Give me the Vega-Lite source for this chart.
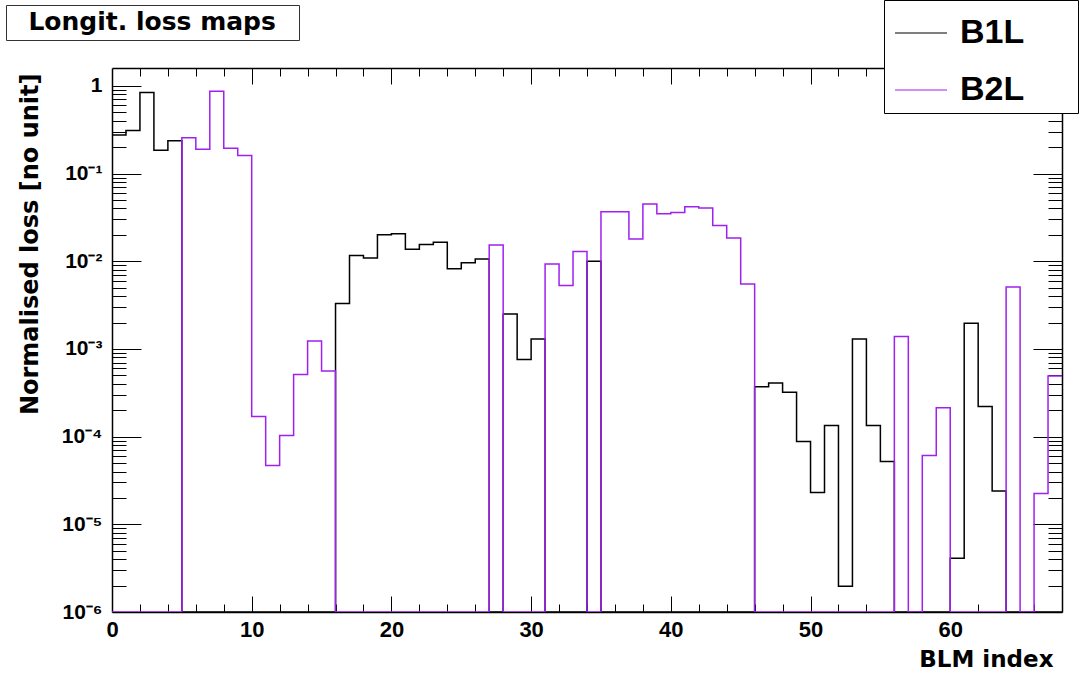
{
  "$schema": "https://vega.github.io/schema/vega-lite/v6.json",
  "width": 950,
  "height": 544,
  "autosize": {"type": "none"},
  "padding": {"left": 112, "top": 68, "right": 18, "bottom": 62},
  "background": "white",
  "config": {
    "view": {"stroke": null},
    "font": "Liberation Sans",
    "axis": {"labelFont": "Liberation Sans", "labelFontWeight": "bold", "labelColor": "black", "titleFont": "DejaVu Sans", "titleFontWeight": "bold", "titleColor": "black", "grid": false, "tickColor": "black", "tickWidth": 1, "domainColor": "black", "domainWidth": 1.5, "labelOverlap": false, "labelBound": false, "labelFlush": false}
  },
  "data": {"values": [
    {"bin":0,"loss":0.275,"beam":"B1L"},{"bin":1,"loss":0.31,"beam":"B1L"},{"bin":2,"loss":0.84,"beam":"B1L"},{"bin":3,"loss":0.184,"beam":"B1L"},{"bin":4,"loss":0.237,"beam":"B1L"},
    {"bin":5,"loss":0,"beam":"B1L"},{"bin":6,"loss":0,"beam":"B1L"},{"bin":7,"loss":0,"beam":"B1L"},{"bin":8,"loss":0,"beam":"B1L"},{"bin":9,"loss":0,"beam":"B1L"},
    {"bin":10,"loss":0,"beam":"B1L"},{"bin":11,"loss":0,"beam":"B1L"},{"bin":12,"loss":0,"beam":"B1L"},{"bin":13,"loss":0,"beam":"B1L"},{"bin":14,"loss":0,"beam":"B1L"},
    {"bin":15,"loss":0,"beam":"B1L"},{"bin":16,"loss":0.0033,"beam":"B1L"},{"bin":17,"loss":0.0116,"beam":"B1L"},{"bin":18,"loss":0.0109,"beam":"B1L"},{"bin":19,"loss":0.0201,"beam":"B1L"},
    {"bin":20,"loss":0.0206,"beam":"B1L"},{"bin":21,"loss":0.0137,"beam":"B1L"},{"bin":22,"loss":0.0155,"beam":"B1L"},{"bin":23,"loss":0.0165,"beam":"B1L"},{"bin":24,"loss":0.0082,"beam":"B1L"},
    {"bin":25,"loss":0.0096,"beam":"B1L"},{"bin":26,"loss":0.0106,"beam":"B1L"},{"bin":27,"loss":0,"beam":"B1L"},{"bin":28,"loss":0.0025,"beam":"B1L"},{"bin":29,"loss":0.00076,"beam":"B1L"},
    {"bin":30,"loss":0.0013,"beam":"B1L"},{"bin":31,"loss":0,"beam":"B1L"},{"bin":32,"loss":0,"beam":"B1L"},{"bin":33,"loss":0,"beam":"B1L"},{"bin":34,"loss":0.01,"beam":"B1L"},
    {"bin":35,"loss":0,"beam":"B1L"},{"bin":36,"loss":0,"beam":"B1L"},{"bin":37,"loss":0,"beam":"B1L"},{"bin":38,"loss":0,"beam":"B1L"},{"bin":39,"loss":0,"beam":"B1L"},
    {"bin":40,"loss":0,"beam":"B1L"},{"bin":41,"loss":0,"beam":"B1L"},{"bin":42,"loss":0,"beam":"B1L"},{"bin":43,"loss":0,"beam":"B1L"},{"bin":44,"loss":0,"beam":"B1L"},
    {"bin":45,"loss":0,"beam":"B1L"},{"bin":46,"loss":0.00037,"beam":"B1L"},{"bin":47,"loss":0.00041,"beam":"B1L"},{"bin":48,"loss":0.00032,"beam":"B1L"},{"bin":49,"loss":0.000088,"beam":"B1L"},
    {"bin":50,"loss":0.000023,"beam":"B1L"},{"bin":51,"loss":0.000134,"beam":"B1L"},{"bin":52,"loss":0.00000197,"beam":"B1L"},{"bin":53,"loss":0.0013,"beam":"B1L"},{"bin":54,"loss":0.000134,"beam":"B1L"},
    {"bin":55,"loss":0.000052,"beam":"B1L"},{"bin":56,"loss":0,"beam":"B1L"},{"bin":57,"loss":0,"beam":"B1L"},{"bin":58,"loss":0,"beam":"B1L"},{"bin":59,"loss":0,"beam":"B1L"},
    {"bin":60,"loss":0.0000041,"beam":"B1L"},{"bin":61,"loss":0.00197,"beam":"B1L"},{"bin":62,"loss":0.00022,"beam":"B1L"},{"bin":63,"loss":0.000024,"beam":"B1L"},{"bin":64,"loss":0,"beam":"B1L"},
    {"bin":65,"loss":0,"beam":"B1L"},{"bin":66,"loss":0,"beam":"B1L"},{"bin":67,"loss":0,"beam":"B1L"},{"bin":68,"loss":0,"beam":"B1L"},
    {"bin":0,"loss":0,"beam":"B2L"},{"bin":1,"loss":0,"beam":"B2L"},{"bin":2,"loss":0,"beam":"B2L"},{"bin":3,"loss":0,"beam":"B2L"},{"bin":4,"loss":0,"beam":"B2L"},
    {"bin":5,"loss":0.256,"beam":"B2L"},{"bin":6,"loss":0.189,"beam":"B2L"},{"bin":7,"loss":0.87,"beam":"B2L"},{"bin":8,"loss":0.194,"beam":"B2L"},{"bin":9,"loss":0.161,"beam":"B2L"},
    {"bin":10,"loss":0.00017,"beam":"B2L"},{"bin":11,"loss":0.000047,"beam":"B2L"},{"bin":12,"loss":0.000103,"beam":"B2L"},{"bin":13,"loss":0.00051,"beam":"B2L"},{"bin":14,"loss":0.00123,"beam":"B2L"},
    {"bin":15,"loss":0.00056,"beam":"B2L"},{"bin":16,"loss":0,"beam":"B2L"},{"bin":17,"loss":0,"beam":"B2L"},{"bin":18,"loss":0,"beam":"B2L"},{"bin":19,"loss":0,"beam":"B2L"},
    {"bin":20,"loss":0,"beam":"B2L"},{"bin":21,"loss":0,"beam":"B2L"},{"bin":22,"loss":0,"beam":"B2L"},{"bin":23,"loss":0,"beam":"B2L"},{"bin":24,"loss":0,"beam":"B2L"},
    {"bin":25,"loss":0,"beam":"B2L"},{"bin":26,"loss":0,"beam":"B2L"},{"bin":27,"loss":0.0153,"beam":"B2L"},{"bin":28,"loss":0,"beam":"B2L"},{"bin":29,"loss":0,"beam":"B2L"},
    {"bin":30,"loss":0,"beam":"B2L"},{"bin":31,"loss":0.0093,"beam":"B2L"},{"bin":32,"loss":0.0053,"beam":"B2L"},{"bin":33,"loss":0.0129,"beam":"B2L"},{"bin":34,"loss":0,"beam":"B2L"},
    {"bin":35,"loss":0.0367,"beam":"B2L"},{"bin":36,"loss":0.0367,"beam":"B2L"},{"bin":37,"loss":0.0179,"beam":"B2L"},{"bin":38,"loss":0.045,"beam":"B2L"},{"bin":39,"loss":0.0349,"beam":"B2L"},
    {"bin":40,"loss":0.0361,"beam":"B2L"},{"bin":41,"loss":0.0419,"beam":"B2L"},{"bin":42,"loss":0.0405,"beam":"B2L"},{"bin":43,"loss":0.0255,"beam":"B2L"},{"bin":44,"loss":0.0184,"beam":"B2L"},
    {"bin":45,"loss":0.0055,"beam":"B2L"},{"bin":46,"loss":0,"beam":"B2L"},{"bin":47,"loss":0,"beam":"B2L"},{"bin":48,"loss":0,"beam":"B2L"},{"bin":49,"loss":0,"beam":"B2L"},
    {"bin":50,"loss":0,"beam":"B2L"},{"bin":51,"loss":0,"beam":"B2L"},{"bin":52,"loss":0,"beam":"B2L"},{"bin":53,"loss":0,"beam":"B2L"},{"bin":54,"loss":0,"beam":"B2L"},
    {"bin":55,"loss":0,"beam":"B2L"},{"bin":56,"loss":0.00139,"beam":"B2L"},{"bin":57,"loss":0,"beam":"B2L"},{"bin":58,"loss":0.000061,"beam":"B2L"},{"bin":59,"loss":0.000213,"beam":"B2L"},
    {"bin":60,"loss":0,"beam":"B2L"},{"bin":61,"loss":0,"beam":"B2L"},{"bin":62,"loss":0,"beam":"B2L"},{"bin":63,"loss":0,"beam":"B2L"},{"bin":64,"loss":0.0051,"beam":"B2L"},
    {"bin":65,"loss":0,"beam":"B2L"},{"bin":66,"loss":0.0000224,"beam":"B2L"},{"bin":67,"loss":0.00049,"beam":"B2L"},{"bin":68,"loss":0.00049,"beam":"B2L"}
  ]},
  "layer": [
    {
      "mark": {"type": "line", "interpolate": "step-after", "strokeWidth": 1.5, "invalid": "show", "clip": true},
      "encoding": {
        "x": {"field": "bin", "type": "quantitative",
          "scale": {"domain": [0, 68], "nice": false, "zero": false},
          "axis": {"orient": "bottom", "values": [0,10,20,30,40,50,60], "format": "d", "ticks": false, "domain": true,
            "labelFontSize": 22, "labelPadding": 7,
            "title": "BLM index", "titleFontSize": 23, "titleAlign": "right", "titleAnchor": "end", "titleX": 941, "titleY": 54, "titleBaseline": "alphabetic"}},
        "y": {"field": "loss", "type": "quantitative",
          "scale": {"type": "log", "domain": [0.000001, 1.6], "nice": false, "clamp": true},
          "axis": {"orient": "left", "values": [0.000001,0.00001,0.0001,0.001,0.01,0.1,1], "ticks": false, "domain": true,
            "labelFontSize": 21, "labelPadding": 10, "labelBaseline": "middle",
            "labelExpr": "round(log(datum.value)/LN10) == 0 ? '1' : '10' + ['', '⁻¹', '⁻²', '⁻³', '⁻⁴', '⁻⁵', '⁻⁶'][-round(log(datum.value)/LN10)]",
            "title": "Normalised loss [no unit]", "titleFontSize": 24, "titleAngle": -90, "titleAlign": "right", "titleBaseline": "middle", "titleX": -82, "titleY": 5}},
        "color": {"field": "beam", "type": "nominal",
          "scale": {"domain": ["B1L", "B2L"], "range": ["#000000", "#a020f0"]},
          "legend": {"orient": "none", "legendX": 772, "legendY": -68, "title": null,
            "strokeColor": "black", "fillColor": "white", "padding": 6,
            "symbolType": "stroke", "symbolSize": 2704, "symbolStrokeWidth": 1.2, "symbolOffset": 4,
            "labelFont": "Liberation Sans", "labelFontWeight": "bold", "labelFontSize": 34, "labelColor": "black",
            "labelOffset": 12, "rowPadding": 13, "labelLimit": 400,
            "labelExpr": "datum.label + '\u00a0\u00a0\u00a0\u00a0\u00a0\u200b'"}}
      }
    },
    {
      "mark": {"type": "line", "interpolate": "step-after", "strokeOpacity": 0, "invalid": "show"},
      "encoding": {
        "x": {"field": "bin", "type": "quantitative",
          "scale": {"domain": [0, 68], "nice": false, "zero": false},
          "axis": {"orient": "bottom", "values": [2,4,6,8,10,12,14,16,18,20,22,24,26,28,30,32,34,36,38,40,42,44,46,48,50,52,54,56,58,60,62,64,66],
            "labels": false, "domain": false, "title": null,
            "tickSize": {"condition": {"test": "datum.value % 10 === 0", "value": -16}, "value": -8}}},
        "y": {"field": "loss", "type": "quantitative",
          "scale": {"type": "log", "domain": [0.000001, 1.6], "nice": false, "clamp": true},
          "axis": {"orient": "left", "values": [0.000001,0.000002,0.000003,0.000004,0.000005,0.000006,0.000007,0.000008,0.000009,0.00001,0.00002,0.00003,0.00004,0.00005,0.00006,0.00007,0.00008,0.00009,0.0001,0.0002,0.0003,0.0004,0.0005,0.0006,0.0007,0.0008,0.0009,0.001,0.002,0.003,0.004,0.005,0.006,0.007,0.008,0.009,0.01,0.02,0.03,0.04,0.05,0.06,0.07,0.08,0.09,0.1,0.2,0.3,0.4,0.5,0.6,0.7,0.8,0.9,1],
            "labels": false, "domain": false, "title": null,
            "tickSize": {"condition": {"test": "abs(log(datum.value)/LN10 - round(log(datum.value)/LN10)) < 0.001", "value": -29}, "value": -14}}},
        "detail": {"field": "beam", "type": "nominal"}
      }
    },
    {
      "mark": {"type": "line", "interpolate": "step-after", "strokeOpacity": 0, "invalid": "show"},
      "encoding": {
        "x": {"field": "bin", "type": "quantitative",
          "scale": {"domain": [0, 68], "nice": false, "zero": false},
          "axis": {"orient": "top", "values": [2,4,6,8,10,12,14,16,18,20,22,24,26,28,30,32,34,36,38,40,42,44,46,48,50,52,54,56,58,60,62,64,66],
            "labels": false, "domain": true, "title": null,
            "tickSize": {"condition": {"test": "datum.value % 10 === 0", "value": -16}, "value": -8}}},
        "y": {"field": "loss", "type": "quantitative",
          "scale": {"type": "log", "domain": [0.000001, 1.6], "nice": false, "clamp": true},
          "axis": {"orient": "right", "values": [0.000001,0.000002,0.000003,0.000004,0.000005,0.000006,0.000007,0.000008,0.000009,0.00001,0.00002,0.00003,0.00004,0.00005,0.00006,0.00007,0.00008,0.00009,0.0001,0.0002,0.0003,0.0004,0.0005,0.0006,0.0007,0.0008,0.0009,0.001,0.002,0.003,0.004,0.005,0.006,0.007,0.008,0.009,0.01,0.02,0.03,0.04,0.05,0.06,0.07,0.08,0.09,0.1,0.2,0.3,0.4,0.5,0.6,0.7,0.8,0.9,1],
            "labels": false, "domain": true, "title": null,
            "tickSize": {"condition": {"test": "abs(log(datum.value)/LN10 - round(log(datum.value)/LN10)) < 0.001", "value": -29}, "value": -14}}},
        "detail": {"field": "beam", "type": "nominal"},
        "size": {"field": "bin", "type": "quantitative",
          "legend": {"values": [], "orient": "none", "legendX": -106, "legendY": -63,
            "title": "\u200b\u00a0\u00a0Longit. loss maps\u00a0\u00a0\u200b", "titleLimit": 600,
            "titleFont": "DejaVu Sans", "titleFontSize": 25, "titleFontWeight": "bold", "titleColor": "black",
            "titlePadding": 0, "strokeColor": "#333333", "fillColor": "white", "padding": 5}}
      }
    }
  ],
  "resolve": {"axis": {"x": "independent", "y": "independent"}}
}
